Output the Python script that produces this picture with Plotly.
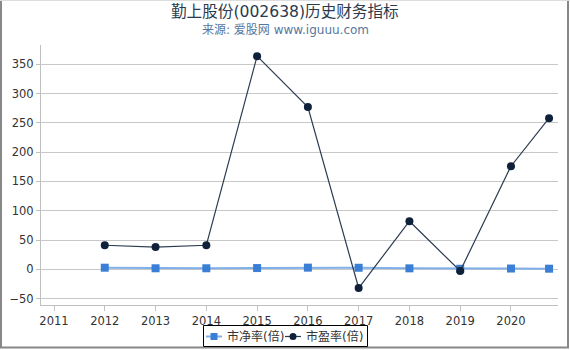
import plotly.graph_objects as go

years = [2012, 2013, 2014, 2015, 2016, 2017, 2018, 2019, 2020, 2020.75]
pb = [2.7, 1.7, 1.7, 2.1, 2.8, 2.6, 1.6, 0.9, 1.3, 1.0]
pe = [41, 38, 41, 364, 277, -32, 82, -3, 176, 258]
tick_years = [2011, 2012, 2013, 2014, 2015, 2016, 2017, 2018, 2019, 2020]
series_names = ["市净率(倍)", "市盈率(倍)"]

FONT = "DejaVu Sans, Noto Sans CJK SC, sans-serif"
PB_LINE, PB_MARK = "#7fb0ea", "#3a7fd5"
PE_LINE, PE_MARK = "#2b3b52", "#0f203a"

fig = go.Figure()
fig.add_trace(go.Scatter(
    x=years, y=pb, name=series_names[0], mode="lines+markers",
    line=dict(color=PB_LINE, width=2),
    marker=dict(symbol="square", size=8, color=PB_MARK),
))
fig.add_trace(go.Scatter(
    x=years, y=pe, name=series_names[1], mode="lines+markers",
    line=dict(color=PE_LINE, width=1.2),
    marker=dict(symbol="circle", size=8, color=PE_MARK),
))

L, R, T, B = 41, 558, 45, 305
W, H = R - L, B - T
def px(x): return (x - L) / W
def py(y): return (B - y) / H

shapes = [
    dict(type="line", xref="paper", yref="paper", x0=px(1), x1=px(1), y0=py(0), y1=py(348),
         line=dict(color="#888888", width=2)),
    dict(type="line", xref="paper", yref="paper", x0=px(568), x1=px(568), y0=py(0), y1=py(348),
         line=dict(color="#888888", width=2)),
    dict(type="line", xref="paper", yref="paper", x0=px(0), x1=px(569), y0=py(347.5), y1=py(347.5),
         line=dict(color="#888888", width=2)),
    dict(type="line", xref="paper", yref="paper", x0=px(0), x1=px(570), y0=py(0.5), y1=py(0.5),
         line=dict(color="#dddddd", width=1)),
    # legend box
    dict(type="rect", xref="paper", yref="paper", x0=px(203.5), x1=px(367.5), y0=py(325.5), y1=py(346.5),
         line=dict(color="#000000", width=1), fillcolor="white"),
    # legend item 1
    dict(type="line", xref="paper", yref="paper", x0=px(206), x1=px(222), y0=py(336.5), y1=py(336.5),
         line=dict(color=PB_LINE, width=2)),
    dict(type="rect", xref="paper", yref="paper", x0=px(210.5), x1=px(217.5), y0=py(333), y1=py(340),
         line=dict(width=0), fillcolor=PB_MARK),
    # legend item 2
    dict(type="line", xref="paper", yref="paper", x0=px(285), x1=px(301), y0=py(336.5), y1=py(336.5),
         line=dict(color=PE_LINE, width=1.2)),
    dict(type="circle", xref="paper", yref="paper", x0=px(289.5), x1=px(296.5), y0=py(333), y1=py(340),
         line=dict(width=0), fillcolor=PE_MARK),
]

annotations = [
    dict(text="勤上股份(002638)历史财务指标", x=px(285), y=py(12), xref="paper", yref="paper",
         showarrow=False, font=dict(size=15.6, color="#2b3a4e"), xanchor="center", yanchor="middle"),
    dict(text="来源: 爱股网 www.iguuu.com", x=px(285), y=py(30), xref="paper", yref="paper",
         showarrow=False, font=dict(size=12, color="#5577a0"), xanchor="center", yanchor="middle"),
    dict(text=series_names[0], x=px(225), y=py(336.5), xref="paper", yref="paper",
         showarrow=False, font=dict(size=12, color="#333333"), xanchor="left", yanchor="middle"),
    dict(text=series_names[1], x=px(304), y=py(336.5), xref="paper", yref="paper",
         showarrow=False, font=dict(size=12, color="#333333"), xanchor="left", yanchor="middle"),
]

fig.update_layout(
    width=570, height=350,
    margin=dict(l=L, r=570 - R, t=T, b=350 - B, autoexpand=False),
    paper_bgcolor="white", plot_bgcolor="white",
    font=dict(family=FONT, size=12, color="#333333"),
    showlegend=False,
    xaxis=dict(range=[2010.744, 2020.926], tickvals=tick_years, ticktext=[str(t) for t in tick_years],
               automargin=False,
               showgrid=False, zeroline=False, showline=True, linecolor="#c0c0c0", linewidth=1,
               ticks="outside", ticklen=5, tickcolor="#c0c0c0", tickfont=dict(size=11.5, color="#333333")),
    yaxis=dict(range=[-61, 383], tickvals=[-50, 0, 50, 100, 150, 200, 250, 300, 350],
               automargin=False,
               showgrid=True, gridcolor="#c8c8c8", gridwidth=1, zeroline=False,
               showline=True, linecolor="#c0c0c0", linewidth=1,
               ticks="outside", ticklen=4, tickcolor="#c0c0c0", tickfont=dict(size=11.5, color="#333333")),
    annotations=annotations,
    shapes=shapes,
)

fig.write_html("out.html")
